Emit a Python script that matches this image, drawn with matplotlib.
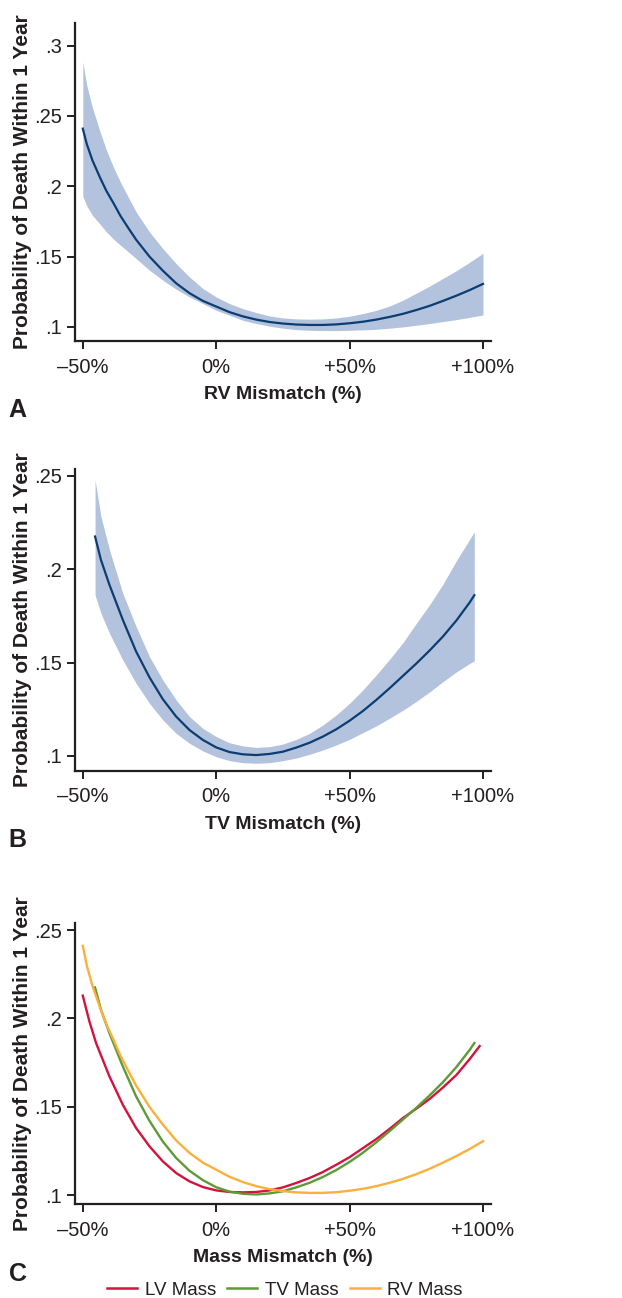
"""
Predicted 1-year mortality vs. size mismatch (RV / TV / mass), three stacked panels.
values read off the published figure.
"""
import matplotlib; matplotlib.use("Agg")
import matplotlib.pyplot as plt
from matplotlib.lines import Line2D

plt.rcParams["font.family"] = ["Liberation Sans Narrow", "Liberation Sans", "DejaVu Sans"]
TXT = "#231f20"
BAND, LINE = "#b4c3dd", "#0b3d72"
C_LV, C_TV, C_RV = "#d4123f", "#5e9b36", "#fbb03b"

# --- data ------------------------------------------------------------
# RV mismatch: mean + 95% band
rv_x   = [-50, -48.5, -46.4, -43.5, -41.1, -38.5, -35.9, -33, -30, -25, -20, -15, -10, -5, 0, 5, 10, 15, 20, 25,
          30, 35, 40, 45, 50, 55, 60, 65, 70, 75, 80, 85, 90, 95, 100]
rv_mid = [.2410, .2300, .2185, .2060, .1965, .1880, .1790, .1705, .1620, .1500, .1400, .1310, .1240, .1185, .1145,
          .1105, .1075, .1052, .1035, .1024, .1017, .1014, .1014, .1018, .1026, .1037, .1052, .1071, .1093, .1120,
          .1150, .1185, .1222, .1262, .1306]
rv_up  = [.2884, .2718, .2560, .2386, .2255, .2135, .2030, .1925, .1818, .1675, .1557, .1450, .1355, .1273, .1213,
          .1166, .1130, .1102, .1078, .1064, .1057, .1055, .1057, .1064, .1076, .1095, .1118, .1149, .1190, .1240,
          .1290, .1345, .1400, .1460, .1524]
rv_lo  = [.1930, .1860, .1794, .1730, .1675, .1625, .1581, .1535, .1486, .1403, .1332, .1268, .1213, .1166, .1118,
          .1083, .1047, .1024, .1005, .0991, .0981, .0976, .0974, .0974, .0976, .0979, .0983, .0991, .1000, .1012,
          .1024, .1038, .1052, .1068, .1085]

# TV mismatch: mean + 95% band
tv_x   = [-45.4, -43.2, -40, -35, -30, -25, -20, -15, -10, -5, 0, 5, 10, 15, 20, 25, 30, 35, 40, 45, 50, 55, 60,
          65, 70, 75, 80, 85, 90, 95, 96.75]
tv_mid = [.2175, .2050, .1916, .1729, .1559, .1421, .1304, .1211, .1139, .1086, .1046, .1021, .1009, .1005, .1011,
          .1023, .1045, .1071, .1104, .1143, .1189, .1241, .1300, .1363, .1429, .1495, .1565, .1640, .1725, .1822,
          .1861]
tv_up  = [.2479, .2282, .2104, .1871, .1693, .1532, .1407, .1300, .1211, .1148, .1104, .1071, .1054, .1046, .1050,
          .1064, .1089, .1121, .1166, .1220, .1282, .1354, .1434, .1518, .1607, .1710, .1810, .1920, .2045, .2160,
          .2200]
tv_lo  = [.1862, .1764, .1657, .1514, .1389, .1282, .1193, .1121, .1068, .1027, .0996, .0975, .0964, .0961, .0964,
          .0975, .0989, .1009, .1032, .1059, .1089, .1125, .1161, .1202, .1245, .1292, .1343, .1398, .1450, .1495,
          .1510]

# LV mass mismatch: mean only
lv_x   = [-50, -47.5, -45, -40, -35, -30, -25, -20, -15, -10, -5, 0, 5, 10, 15, 20, 25, 30, 35, 40, 45, 50, 55,
          60, 65, 70, 75, 80, 85, 90, 95, 98.75]
lv_mid = [.2129, .1982, .1860, .1672, .1512, .1380, .1277, .1192, .1126, .1079, .1047, .1028, .1019, .1017, .1019,
          .1028, .1045, .1070, .1098, .1132, .1173, .1216, .1267, .1318, .1376, .1437, .1490, .1545, .1610, .1680,
          .1770, .1844]

panels = [
    dict(letter="A", xlabel="RV Mismatch (%)", ylim=(.0900, .3161), yticks=[.1, .15, .2, .25, .3],
         yticklabels=[".1", ".15", ".2", ".25", ".3"], rect=[.1198, .7373, .6696, .2450]),
    dict(letter="B", xlabel="TV Mismatch (%)", ylim=(.0921, .2536), yticks=[.1, .15, .2, .25],
         yticklabels=[".1", ".15", ".2", ".25"], rect=[.1198, .4062, .6696, .2324]),
    dict(letter="C", xlabel="Mass Mismatch (%)", ylim=(.0951, .2541), yticks=[.1, .15, .2, .25],
         yticklabels=[".1", ".15", ".2", ".25"], rect=[.1198, .0724, .6696, .2167]),
]
xticks = [-50, 0, 50, 100]
xticklabels = ["\u201350%", "0%", "+50%", "+100%"]

fig = plt.figure(figsize=(6.22, 12.98), dpi=100)
axes = []
for p in panels:
    ax = fig.add_axes(p["rect"])
    ax.set_xlim(-53.1, 103.0); ax.set_ylim(*p["ylim"])
    ax.set_xticks(xticks); ax.set_xticklabels(xticklabels)
    ax.set_yticks(p["yticks"]); ax.set_yticklabels(p["yticklabels"])
    for s in ("top", "right"): ax.spines[s].set_visible(False)
    for s in ("left", "bottom"):
        ax.spines[s].set_linewidth(1.6); ax.spines[s].set_color(TXT)
    ax.tick_params(length=6, width=1.4, color=TXT, labelsize=14.5, labelcolor=TXT)
    ax.tick_params(axis="x", pad=6)
    ax.tick_params(axis="y", pad=3)
    ax.set_xlabel(p["xlabel"], fontsize=14, fontweight="bold", color=TXT, labelpad=7)
    ax.set_ylabel("Probability of Death Within 1 Year", fontsize=15, fontweight="bold", color=TXT)
    ax.yaxis.set_label_coords(-0.103, 0.5)
    axes.append(ax)

axA, axB, axC = axes
axA.fill_between(rv_x, rv_lo, rv_up, color=BAND, lw=0)
axA.plot(rv_x, rv_mid, color=LINE, lw=1.6)
axB.fill_between(tv_x, tv_lo, tv_up, color=BAND, lw=0)
axB.plot(tv_x, tv_mid, color=LINE, lw=1.6)

axC.plot(lv_x, lv_mid, color=C_LV, lw=1.7)
axC.plot(tv_x, tv_mid, color=C_TV, lw=1.7)
axC.plot(rv_x, rv_mid, color=C_RV, lw=1.7)

# panel letters
for y, letter in [(1 - 417/1298, "A"), (1 - 847/1298, "B"), (1 - 1281/1298, "C")]:
    fig.text(0.014, y, letter, fontsize=18, fontweight="bold", color=TXT, ha="left", va="baseline")

handles = [Line2D([], [], color=c, lw=1.8) for c in (C_LV, C_TV, C_RV)]
fig.legend(handles, ["LV Mass", "TV Mass", "RV Mass"], loc="lower center",
           bbox_to_anchor=(0.458, -0.0137), ncol=3, frameon=False, fontsize=13.5,
           handlelength=1.6, handletextpad=0.4, columnspacing=0.6, labelcolor=TXT)

fig.savefig("out.png", dpi=100)
